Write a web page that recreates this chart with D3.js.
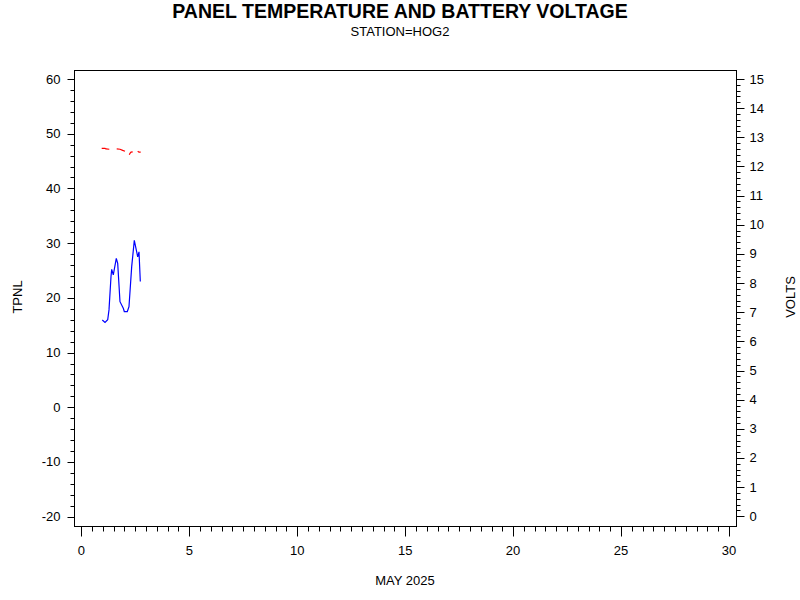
<!DOCTYPE html>
<html><head><meta charset="utf-8">
<script src="https://cdn.jsdelivr.net/npm/d3@7"></script>
<style>body{margin:0;background:#fff}svg{display:block}text{font-family:"Liberation Sans",Arial,sans-serif;fill:#000}</style>
</head><body>
<svg id="c" width="800" height="600"></svg>
<script>
// Data (day of May 2025)
const tempDays = [0.973,1.098,1.223,1.283,1.376,1.408,1.482,1.621,1.686,1.792,1.945,1.992,2.131,2.209,2.334,2.455,2.566,2.612,2.673,2.733];
const tempValues = [15.96,15.5,16.0,17.8,23.9,25.2,24.2,27.2,26.3,19.3,18.1,17.5,17.5,18.4,25.7,30.5,28.4,27.5,28.4,23.0];
const voltDays = [0.945,1.098,1.144,1.297,1.45,1.640,1.792,1.918,2.024,2.12,2.223,2.256,2.302,2.381,2.5,2.612,2.673,2.751];
const voltValues = [12.62,12.62,12.60,12.59,null,12.60,12.59,12.55,12.52,null,12.40,12.45,12.49,12.50,null,12.52,12.49,12.49];
const xTicks = [0,5,10,15,20,25,30];
const yTicks = [-20,-10,0,10,20,30,40,50,60];
const vTicks = [0,1,2,3,4,5,6,7,8,9,10,11,12,13,14,15];

const svg = d3.select("#c");
const L=74,R=736,T=70,B=526;
const x = d3.scaleLinear().domain([0,30]).range([81.3,729]);
const y = d3.scaleLinear().domain([-20,60]).range([516.7,79]);
const v = d3.scaleLinear().domain([0,15]).range([516.3,79]);

svg.append("text").attr("x",400).attr("y",17.5).attr("text-anchor","middle")
  .style("font-weight","bold").style("font-size","19.5px").text("PANEL TEMPERATURE AND BATTERY VOLTAGE");
svg.append("text").attr("x",400).attr("y",36).attr("text-anchor","middle")
  .style("font-size","13px").text("STATION=HOG2");

// frame
svg.append("rect").attr("x",L+0.5).attr("y",T+0.5).attr("width",R-L).attr("height",B-T)
  .attr("fill","none").attr("stroke","#000").attr("stroke-width",1);

// left axis
const gl = svg.append("g").attr("transform",`translate(${L+0.5},0)`);
gl.selectAll("line.mn").data(d3.range(-20,60.01,2)).join("line")
  .attr("x1",0).attr("x2",d=>d%10===0?-7:-4)
  .attr("y1",d=>Math.round(y(d))+0.5).attr("y2",d=>Math.round(y(d))+0.5).attr("stroke","#000");
gl.selectAll("text").data(yTicks).join("text")
  .attr("x",-14).attr("y",d=>y(d)+4.5).attr("text-anchor","end").style("font-size","13px").text(d=>d);

// right axis
const gr = svg.append("g").attr("transform",`translate(${R+0.5},0)`);
gr.selectAll("line").data(d3.range(0,75.01,1)).join("line")
  .attr("x1",0).attr("x2",d=>d%5===0?8:4)
  .attr("y1",d=>Math.round(v(d/5))+0.5).attr("y2",d=>Math.round(v(d/5))+0.5).attr("stroke","#000");
gr.selectAll("text").data(vTicks).join("text")
  .attr("x",13).attr("y",d=>v(d)+4.5).attr("text-anchor","start").style("font-size","13px").text(d=>d);

// bottom axis
const gb = svg.append("g").attr("transform",`translate(0,${B+0.5})`);
gb.selectAll("line").data(d3.range(0,60.01,1)).join("line")
  .attr("y1",0).attr("y2",d=>d%10===0?10:5)
  .attr("x1",d=>Math.round(x(d/2))+0.5).attr("x2",d=>Math.round(x(d/2))+0.5).attr("stroke","#000");
gb.selectAll("text").data(xTicks).join("text")
  .attr("x",d=>x(d)).attr("y",28).attr("text-anchor","middle").style("font-size","13px").text(d=>d);

svg.append("text").attr("x",405).attr("y",585).attr("text-anchor","middle").style("font-size","13px").text("MAY 2025");
svg.append("text").attr("transform","translate(22,297) rotate(-90)").attr("text-anchor","middle").style("font-size","13px").text("TPNL");
svg.append("text").attr("transform","translate(795,297) rotate(-90)").attr("text-anchor","middle").style("font-size","13px").text("VOLTS");

// lines
const tData = tempDays.map((d,i)=>[d,tempValues[i]]);
svg.append("path").datum(tData).attr("fill","none").attr("stroke","#0000ff").attr("stroke-width",1.2)
  .attr("d",d3.line().x(d=>x(d[0])).y(d=>y(d[1])));
const vData = voltDays.map((d,i)=>[d,voltValues[i]]);
svg.append("path").datum(vData).attr("fill","none").attr("stroke","#ff0000").attr("stroke-width",1.2)
  .attr("d",d3.line().defined(d=>d[1]!==null).x(d=>x(d[0])).y(d=>v(d[1])));
</script>
</body></html>
